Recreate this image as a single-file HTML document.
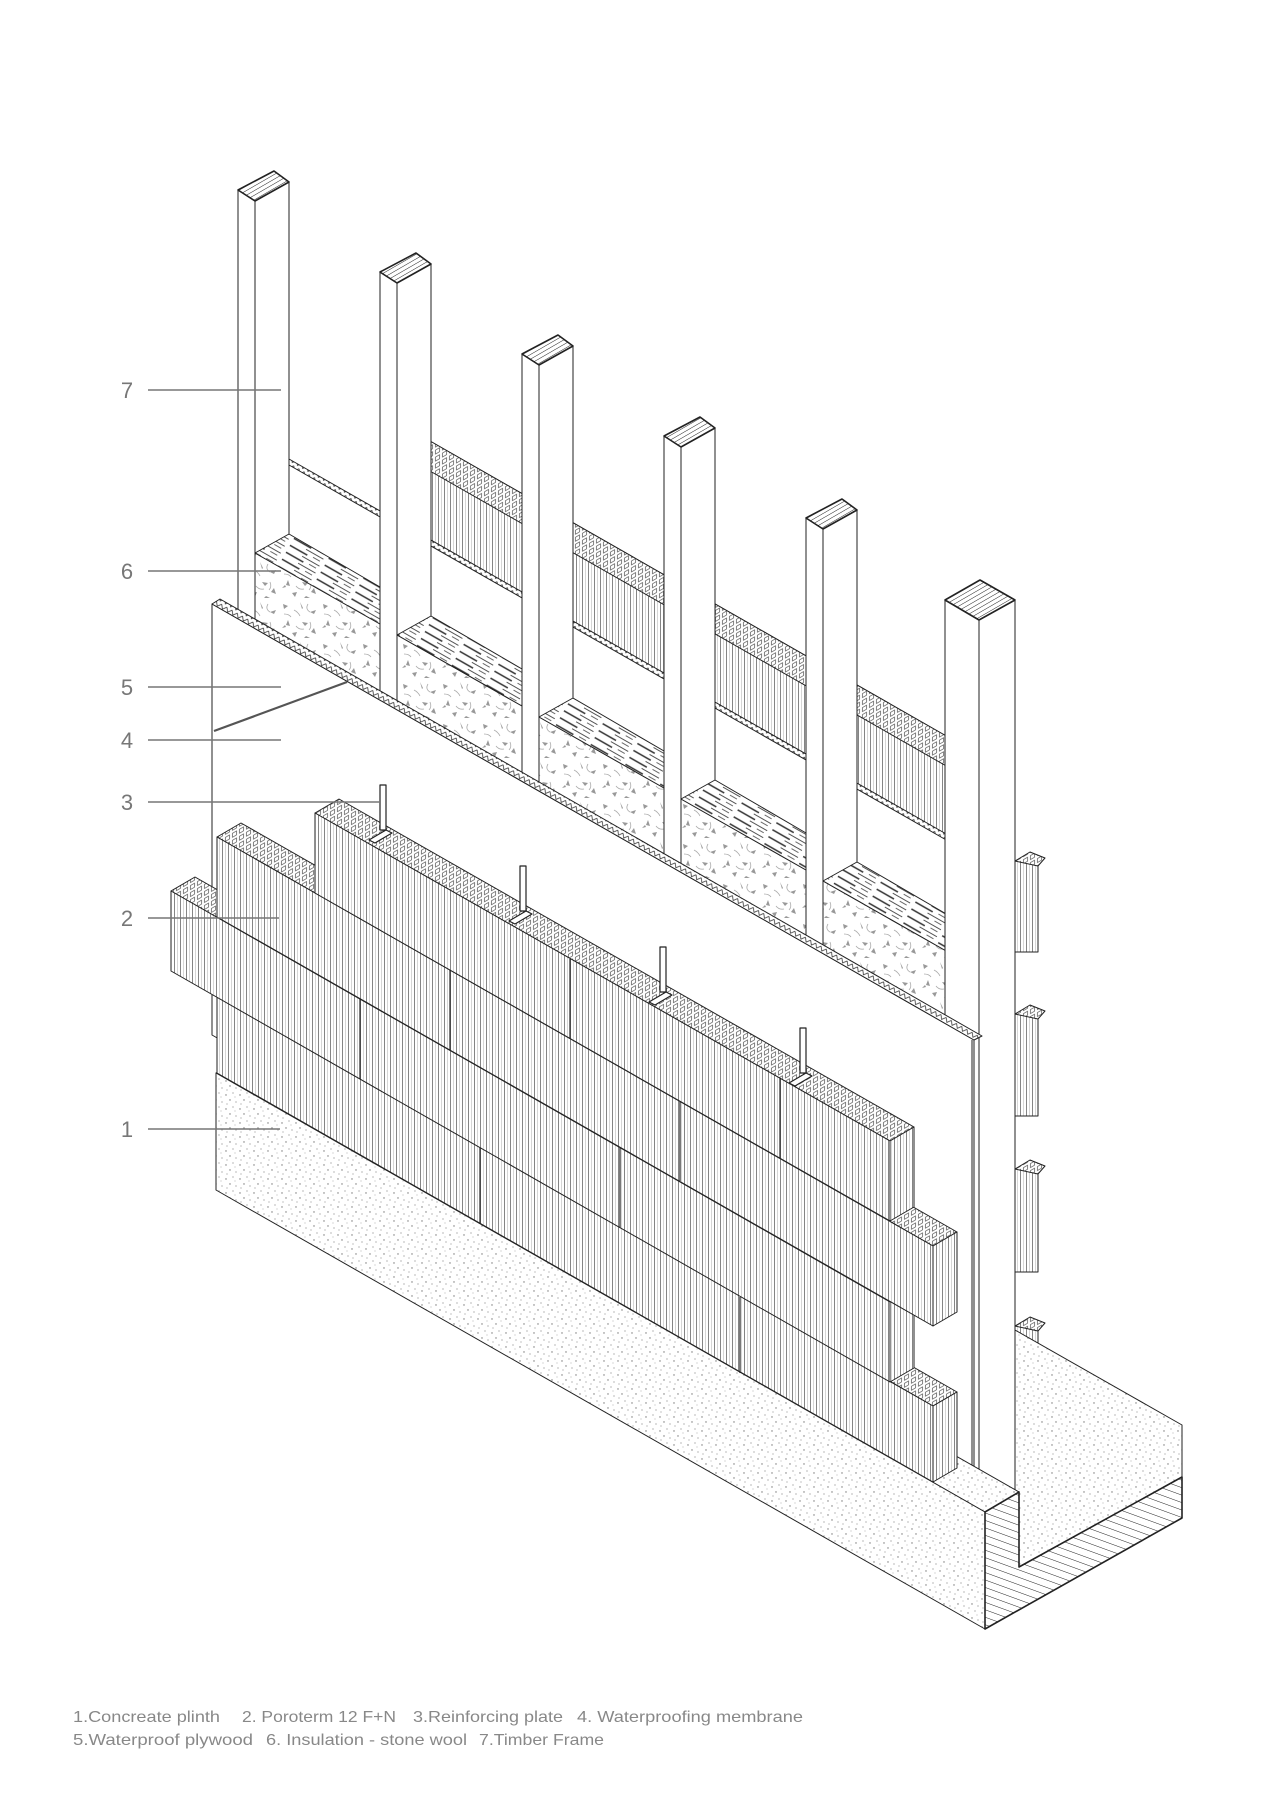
<!DOCTYPE html>
<html><head><meta charset="utf-8"><style>
html,body{margin:0;padding:0;background:#fff;}
svg{display:block;}
</style></head><body>
<svg width="1272" height="1800" viewBox="0 0 1272 1800" xmlns="http://www.w3.org/2000/svg">
<defs>
<pattern id="st" width="6" height="10" patternUnits="userSpaceOnUse"><rect width="6" height="10" fill="#fff"/><line x1="0.5" y1="0" x2="0.5" y2="10" stroke="#333" stroke-width="0.6"/><line x1="3.3" y1="0" x2="3.3" y2="10" stroke="#999" stroke-width="0.4"/></pattern>
<pattern id="ho" width="7" height="7" patternUnits="userSpaceOnUse" patternTransform="skewY(-30)"><rect width="7" height="7" fill="#fff"/><rect x="1.5" y="1.5" width="4" height="4" fill="none" stroke="#444" stroke-width="0.7"/></pattern>
<pattern id="dt" width="14" height="14" patternUnits="userSpaceOnUse"><rect width="14" height="14" fill="#fff"/><circle cx="2" cy="3" r="0.7" fill="#777"/><circle cx="9" cy="1" r="0.6" fill="#888"/><circle cx="6" cy="8" r="0.7" fill="#777"/><circle cx="12" cy="10" r="0.6" fill="#888"/><circle cx="3" cy="12" r="0.6" fill="#999"/><circle cx="11" cy="5" r="0.5" fill="#999"/></pattern>
<pattern id="sp" width="40" height="40" patternUnits="userSpaceOnUse"><rect width="40" height="40" fill="#fff"/><path d="M3 4l5 2-4 3z M20 2l3 6-1 1z M30 12l6-2-2 4z M8 20l2 6-4-1z M22 22l6 1-3 3z M34 28l2 6-5-2z M12 33l5-1-2 5z M26 36l4 2-6 0z M2 28l3-3 1 2z" fill="#999"/><path d="M14 10q4 2 6 6 M28 4q-3 5 2 8 M4 14q5 0 7 3 M30 22q2 5-1 8 M16 26q3 4 8 3" stroke="#aaa" stroke-width="0.8" fill="none"/></pattern>
<pattern id="gr" width="40" height="8" patternUnits="userSpaceOnUse" patternTransform="rotate(29.7)"><rect width="40" height="8" fill="#fff"/><line x1="2" y1="2" x2="22" y2="2" stroke="#333" stroke-width="1.4"/><line x1="18" y1="5.5" x2="38" y2="5.5" stroke="#555" stroke-width="1"/><line x1="28" y1="1" x2="36" y2="1" stroke="#444" stroke-width="0.8"/></pattern>
<pattern id="ha" width="7" height="7" patternUnits="userSpaceOnUse" patternTransform="rotate(-70)"><rect width="7" height="7" fill="#fff"/><line x1="0" y1="0" x2="0" y2="7" stroke="#222" stroke-width="1"/></pattern>
<pattern id="hc" width="4" height="4" patternUnits="userSpaceOnUse" patternTransform="rotate(-30)"><rect width="4" height="4" fill="#fff"/><line x1="0" y1="0" x2="4" y2="0" stroke="#222" stroke-width="1"/></pattern>
<pattern id="zz" width="6" height="6" patternUnits="userSpaceOnUse" patternTransform="rotate(29.7)"><rect width="6" height="6" fill="#fff"/><path d="M0 1L3 5L6 1" stroke="#333" stroke-width="0.8" fill="none"/></pattern>
</defs>
<g stroke="#222" stroke-width="1" stroke-linejoin="round">
<polygon points="430,441 948,737 948,838 430,543" fill="url(#st)"/>
<polygon points="430,441 948,737 948,767 430,471" fill="url(#ho)"/>
<polygon points="289,459 948,835 948,841 289,465" fill="url(#zz)"/>
<g fill="#fff">
<polygon points="238,190 255,201 255,1100 238,1100"/><polygon points="255,201 289,182 289,1100 255,1100"/>
<polygon points="380,272 397,283 397,1100 380,1100"/><polygon points="397,283 431,264 431,1100 397,1100"/>
<polygon points="522,354 539,365 539,1100 522,1100"/><polygon points="539,365 573,346 573,1100 539,1100"/>
<polygon points="664,436 681,447 681,1100 664,1100"/><polygon points="681,447 715,428 715,1100 681,1100"/>
<polygon points="806,518 823,529 823,1100 806,1100"/><polygon points="823,529 857,510 857,1100 823,1100"/>
</g>
<g fill="url(#hc)" stroke-width="1.6">
<polygon points="238,190 274,171 289,182 255,201"/>
<polygon points="380,272 416,253 431,264 397,283"/>
<polygon points="522,354 558,335 573,346 539,365"/>
<polygon points="664,436 700,417 715,428 681,447"/>
<polygon points="806,518 842,499 857,510 823,529"/>
</g>
<g>
<polygon points="255,553 380,624 380,760 255,760" fill="url(#sp)"/><polygon points="255,553 289,534 380,587 380,624" fill="url(#gr)"/>
<polygon points="397,635 522,706 522,840 397,840" fill="url(#sp)"/><polygon points="397,635 431,616 522,669 522,706" fill="url(#gr)"/>
<polygon points="539,717 664,788 664,920 539,920" fill="url(#sp)"/><polygon points="539,717 573,698 664,751 664,788" fill="url(#gr)"/>
<polygon points="681,799 806,870 806,1000 681,1000" fill="url(#sp)"/><polygon points="681,799 715,780 806,833 806,870" fill="url(#gr)"/>
<polygon points="823,881 948,952 948,1080 823,1080" fill="url(#sp)"/><polygon points="823,881 857,862 948,915 948,952" fill="url(#gr)"/>
</g>
<g fill="url(#st)">
<rect x="1015" y="861" width="23" height="91"/>
<rect x="1015" y="1014" width="23" height="102"/>
<rect x="1015" y="1169" width="23" height="103"/>
<rect x="1015" y="1326" width="23" height="101"/>
</g>
<g fill="url(#ho)">
<polygon points="1015,861 1030,852 1045,858 1038,866"/>
<polygon points="1015,1014 1030,1005 1045,1011 1038,1019"/>
<polygon points="1015,1169 1030,1160 1045,1166 1038,1174"/>
<polygon points="1015,1326 1030,1317 1045,1323 1038,1331"/>
</g>
<polygon points="1015,1330 1182,1425 1182,1477 1019,1567 1019,1492 1015,1490" fill="url(#dt)"/>
<polygon points="945,600 979,620 979,1500 945,1500" fill="#fff"/>
<polygon points="979,620 1015,600 1015,1492 979,1500" fill="#fff"/>
<polygon points="945,600 980,580 1015,600 979,620" fill="url(#hc)" stroke-width="1.6"/>
<polygon points="212,604 974,1040 974,1470 212,1035" fill="#fff"/>
<line x1="972" y1="1040" x2="972" y2="1470"/>
<polygon points="212,604 220,599 982,1036 974,1040" fill="url(#zz)"/>
<line x1="214" y1="731" x2="347" y2="682" stroke="#555" stroke-width="2.2"/>
<polygon points="216,1073 250,1053 1019,1492 985,1512" fill="url(#dt)"/>
<polygon points="216,1073 985,1512 985,1629 216,1190" fill="url(#dt)"/>
<polygon points="985,1512 1019,1492 1019,1567 1182,1477 1182,1518 985,1629" fill="url(#ha)" stroke-width="1.6"/>
<polygon points="217,997 241,983 957,1392 933,1406" fill="url(#ho)"/>
<polygon points="217,997 933,1406 933,1482 217,1073" fill="url(#st)"/>
<polygon points="933,1406 957,1392 957,1468 933,1482" fill="url(#st)"/>
<polygon points="171,891 195,877 914,1288 890,1302" fill="url(#ho)"/>
<polygon points="171,891 890,1302 890,1382 171,971" fill="url(#st)"/>
<polygon points="890,1302 914,1288 914,1368 890,1382" fill="url(#st)"/>
<polygon points="217,837 241,823 957,1232 933,1246" fill="url(#ho)"/>
<polygon points="217,837 933,1246 933,1326 217,917" fill="url(#st)"/>
<polygon points="933,1246 957,1232 957,1312 933,1326" fill="url(#st)"/>
<polygon points="315,813 339,799 914,1127 890,1141" fill="url(#ho)"/>
<polygon points="315,813 890,1141 890,1221 315,893" fill="url(#st)"/>
<polygon points="890,1141 914,1127 914,1207 890,1221" fill="url(#st)"/>
<g stroke-width="1.2">
<line x1="570" y1="959" x2="570" y2="1039"/><line x1="780" y1="1078" x2="780" y2="1158"/>
<line x1="450" y1="970" x2="450" y2="1050"/><line x1="680" y1="1101" x2="680" y2="1181"/>
<line x1="360" y1="999" x2="360" y2="1079"/><line x1="620" y1="1148" x2="620" y2="1228"/>
<line x1="480" y1="1148" x2="480" y2="1224"/><line x1="740" y1="1297" x2="740" y2="1373"/>
</g>
<g fill="#fff" stroke-width="1.2">
<rect x="380" y="785" width="6" height="45"/><polygon points="369,840 386,830 392,833 375,843"/>
<rect x="520" y="866" width="6" height="45"/><polygon points="509,921 526,911 532,914 515,924"/>
<rect x="660" y="947" width="6" height="45"/><polygon points="649,1002 666,992 672,995 655,1005"/>
<rect x="800" y="1028" width="6" height="45"/><polygon points="789,1083 806,1073 812,1076 795,1086"/>
</g>
</g>
<g stroke="#777" stroke-width="1.5">
<line x1="148" y1="390" x2="281" y2="390"/>
<line x1="148" y1="571" x2="281" y2="571"/>
<line x1="148" y1="687" x2="281" y2="687"/>
<line x1="148" y1="740" x2="281" y2="740"/>
<line x1="148" y1="802" x2="380" y2="802"/>
<line x1="148" y1="918" x2="279" y2="918"/>
<line x1="148" y1="1129" x2="280" y2="1129"/>
</g>
<g font-family="Liberation Sans, sans-serif" font-size="22" fill="#777" text-anchor="middle">
<text x="127" y="398">7</text>
<text x="127" y="579">6</text>
<text x="127" y="695">5</text>
<text x="127" y="748">4</text>
<text x="127" y="810">3</text>
<text x="127" y="926">2</text>
<text x="127" y="1137">1</text>
</g>
<g font-family="Liberation Sans, sans-serif" font-size="16" fill="#888">
<text x="73" y="1722" textLength="147" lengthAdjust="spacingAndGlyphs">1.Concreate plinth</text>
<text x="242" y="1722" textLength="154" lengthAdjust="spacingAndGlyphs">2. Poroterm 12 F+N</text>
<text x="413" y="1722" textLength="150" lengthAdjust="spacingAndGlyphs">3.Reinforcing plate</text>
<text x="577" y="1722" textLength="226" lengthAdjust="spacingAndGlyphs">4. Waterproofing membrane</text>
<text x="73" y="1745" textLength="180" lengthAdjust="spacingAndGlyphs">5.Waterproof plywood</text>
<text x="266" y="1745" textLength="201" lengthAdjust="spacingAndGlyphs">6. Insulation - stone wool</text>
<text x="479" y="1745" textLength="125" lengthAdjust="spacingAndGlyphs">7.Timber Frame</text>
</g>
</svg>
</body></html>
